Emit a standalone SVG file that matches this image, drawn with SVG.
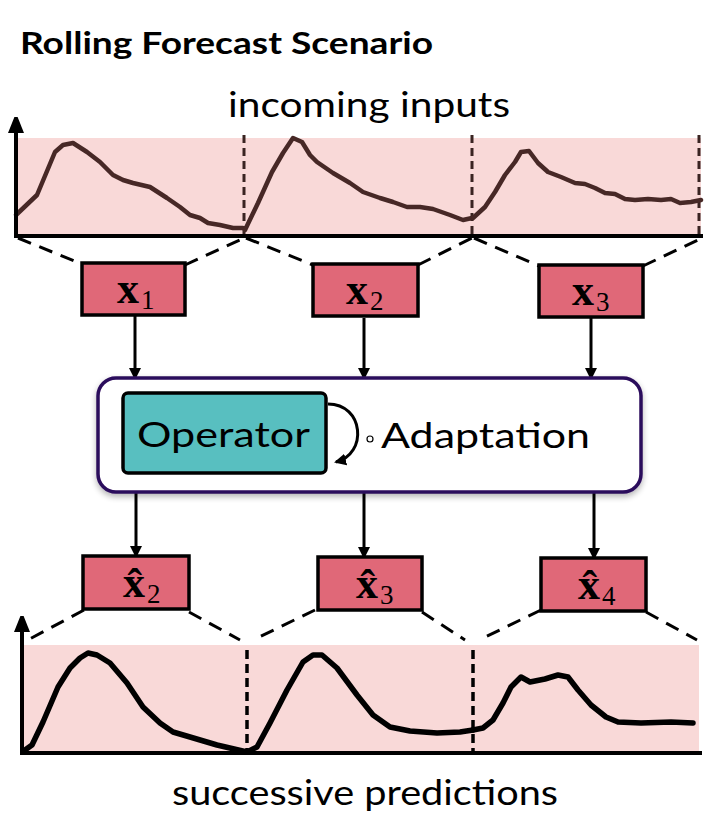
<svg xmlns="http://www.w3.org/2000/svg" width="718" height="826" viewBox="0 0 718 826">
<style>
.t{font-family:"Lato","Liberation Sans",sans-serif;fill:#000}
.bg{fill:#f9d9d8}
.ax{stroke:#000;stroke-width:4;fill:none}
.vd{stroke:#3a2422;stroke-width:3;stroke-dasharray:8,5;fill:none}
.vd2{stroke:#000;stroke-width:3.5;stroke-dasharray:9,5;fill:none}
.cd{stroke:#000;stroke-width:3;stroke-dasharray:14,9;fill:none}
.c1{stroke:#472826;stroke-width:4.5;fill:none;stroke-linejoin:round;stroke-linecap:round}
.c2{stroke:#000;stroke-width:5.5;fill:none;stroke-linejoin:round;stroke-linecap:round}
.box{fill:#e06878;stroke:#000;stroke-width:3.5}
.mx{font-family:"Liberation Serif","DejaVu Serif",serif;font-weight:bold;font-size:44px}
.ms{font-family:"Liberation Serif","DejaVu Serif",serif;font-size:27px}
.arr{stroke:#000;stroke-width:3;fill:none;marker-end:url(#ah)}
</style>
<defs>
<marker id="ah" markerWidth="12" markerHeight="12" refX="10" refY="6" orient="auto" markerUnits="userSpaceOnUse">
<path d="M0,0 L12,6 L0,12 Z" fill="#000"/>
</marker>
<marker id="axh" markerWidth="16" markerHeight="20" refX="2" refY="8" orient="auto" markerUnits="userSpaceOnUse">
<path d="M0,0 L20,8 L0,16 Z" fill="#000"/>
</marker>
<filter id="sh" x="-5%" y="-10%" width="110%" height="125%">
<feGaussianBlur in="SourceAlpha" stdDeviation="3"/>
<feOffset dy="3"/>
<feComponentTransfer><feFuncA type="linear" slope="0.3"/></feComponentTransfer>
<feMerge><feMergeNode/><feMergeNode in="SourceGraphic"/></feMerge>
</filter>
</defs>

<text class="t" x="20" y="54" font-size="30" font-weight="bold" textLength="413" lengthAdjust="spacingAndGlyphs">Rolling Forecast Scenario</text>
<text class="t" x="228" y="117" font-size="34" textLength="282" lengthAdjust="spacingAndGlyphs">incoming inputs</text>

<g id="input-chart">
<rect class="bg" x="18" y="138" width="683" height="98"/>
<line class="vd" x1="244" y1="135" x2="244" y2="236"/>
<line class="vd" x1="472" y1="135" x2="472" y2="236"/>
<line class="vd" x1="699" y1="135" x2="699" y2="236"/>
<polyline class="c1" points="16,215 37,195 55,152 63,145 73,143 87,152 100,162 113,175 123,180 133,183 150,187 167,198 180,207 190,215 200,218 208,223 220,225 233,228 243,228"/>
<polyline class="c1" points="245,230 258,203 272,172 283,153 293,138 302,142 310,155 317,162 333,173 350,183 363,192 380,198 393,202 407,207 420,207 433,209 450,215 463,220 472,218"/>
<polyline class="c1" points="473,218 485,207 495,192 505,175 515,162 521,152 529,151 538,163 548,172 561,177 575,183 585,184 595,188 605,193 615,194 625,199 635,200 648,199 661,200 671,199 680,203 691,202 701,200"/>
<line class="ax" x1="16" y1="238" x2="16" y2="131" marker-end="url(#axh)"/>
<line class="ax" x1="14" y1="236" x2="703" y2="236"/>
</g>

<g id="prediction-chart">
<rect class="bg" x="24" y="645" width="675" height="108"/>
<line class="vd2" x1="247" y1="650" x2="247" y2="753"/>
<line class="vd2" x1="473" y1="650" x2="473" y2="753"/>
<polyline class="c2" points="25,750 32,745 43,722 58,687 70,668 80,658 88,653 97,655 110,663 127,683 143,707 160,723 173,732 190,737 217,745 247,752"/>
<polyline class="c2" points="247,752 257,747 270,723 287,690 303,662 313,655 322,655 337,668 357,695 373,715 390,727 410,731 437,733 460,732 473,730"/>
<polyline class="c2" points="473,730 483,728 493,720 503,703 511,687 521,677 530,682 545,679 558,675 568,677 578,690 591,705 606,717 618,722 641,723 671,722 693,723"/>
<line class="ax" x1="22" y1="755" x2="22" y2="630" marker-end="url(#axh)"/>
<line class="ax" x1="20" y1="753" x2="702" y2="753"/>
</g>
<text class="t" x="172" y="805" font-size="34" textLength="386" lengthAdjust="spacingAndGlyphs">successive predictions</text>

<g id="connectors">
<line class="cd" x1="18" y1="238" x2="84" y2="265"/>
<line class="cd" x1="185" y1="265" x2="244" y2="238"/>
<line class="cd" x1="246" y1="238" x2="313" y2="265"/>
<line class="cd" x1="418" y1="265" x2="472" y2="238"/>
<line class="cd" x1="474" y1="238" x2="539" y2="266"/>
<line class="cd" x1="643" y1="266" x2="702" y2="238"/>
<line class="cd" x1="84" y1="610" x2="24" y2="642"/>
<line class="cd" x1="189" y1="612" x2="240" y2="640"/>
<line class="cd" x1="315" y1="610" x2="253" y2="640"/>
<line class="cd" x1="422" y1="612" x2="465" y2="640"/>
<line class="cd" x1="541" y1="610" x2="479" y2="640"/>
<line class="cd" x1="646" y1="612" x2="697" y2="640"/>
<line class="arr" x1="135" y1="316" x2="135" y2="378"/>
<line class="arr" x1="364" y1="318" x2="364" y2="378"/>
<line class="arr" x1="591" y1="318" x2="591" y2="378"/>
<line class="arr" x1="136" y1="493" x2="136" y2="556"/>
<line class="arr" x1="364" y1="493" x2="364" y2="557"/>
<line class="arr" x1="594" y1="493" x2="594" y2="558"/>
</g>

<g id="x1">
<rect class="box" x="82" y="263" width="103" height="52"/>
<text class="mx" x="117" y="303">x</text><text class="ms" x="141" y="309">1</text>
</g>
<g id="x2">
<rect class="box" x="313" y="264" width="105" height="52"/>
<text class="mx" x="346" y="304">x</text><text class="ms" x="370" y="310">2</text>
</g>
<g id="x3">
<rect class="box" x="539" y="265" width="104" height="52"/>
<text class="mx" x="572" y="305">x</text><text class="ms" x="596" y="311">3</text>
</g>

<g id="adaptation">
<rect x="98" y="378" width="543" height="114" rx="18" fill="#fff" stroke="#2c0a5c" stroke-width="3.5" filter="url(#sh)"/>
<g id="operator">
<rect x="123" y="393" width="203" height="80" rx="5" fill="#58bfc0" stroke="#000" stroke-width="3.5"/>
<text class="t" x="137" y="447" font-size="35" textLength="173" lengthAdjust="spacingAndGlyphs">Operator</text>
</g>
<path d="M328,404 C364,404 368,454 336,462" stroke="#000" stroke-width="3" fill="none" marker-end="url(#ah)"/>
<circle cx="370" cy="439" r="3" fill="none" stroke="#000" stroke-width="1.2"/>
<text class="t" x="381" y="448" font-size="35" textLength="209" lengthAdjust="spacingAndGlyphs">Adaptation</text>
</g>

<g id="xh2">
<rect class="box" x="83" y="556" width="106" height="53"/>
<text class="mx" x="123" y="597">x&#x302;</text><text class="ms" x="147" y="603">2</text>
</g>
<g id="xh3">
<rect class="box" x="318" y="557" width="104" height="53"/>
<text class="mx" x="356" y="598">x&#x302;</text><text class="ms" x="380" y="604">3</text>
</g>
<g id="xh4">
<rect class="box" x="541" y="558" width="105" height="53"/>
<text class="mx" x="578" y="599">x&#x302;</text><text class="ms" x="602" y="605">4</text>
</g>
</svg>
